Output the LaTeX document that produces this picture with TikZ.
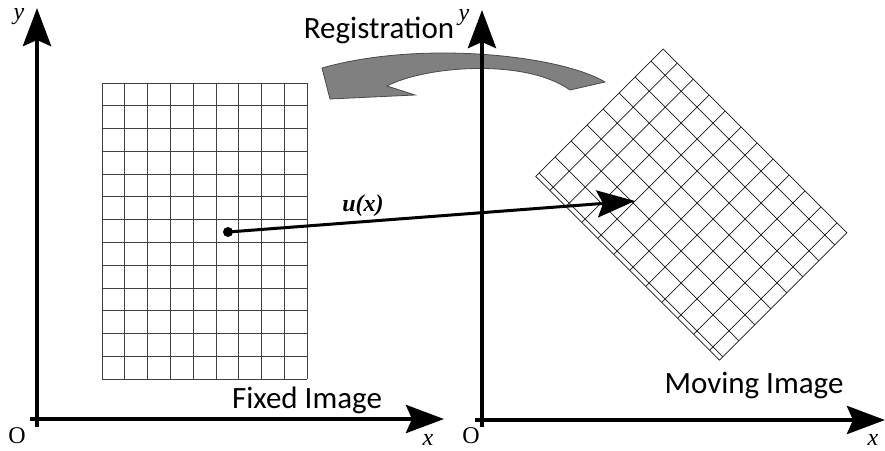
\documentclass[tikz,border=0pt]{standalone}
\usepackage{fontspec}
\setmainfont{Carlito}
\newfontfamily\tnr{Liberation Serif}
\usetikzlibrary{arrows.meta}
\definecolor{regfill}{HTML}{808080}
\definecolor{regline}{HTML}{4A4A4A}
\begin{document}
\begin{tikzpicture}[x=1pt,y=-1pt,
  axisline/.style={line width=4.5pt,-{Stealth[length=38pt,width=28pt,inset=6pt]}},
  uarrow/.style={line width=3pt,-{Stealth[length=38pt,width=27pt,inset=6pt]}},
  gridline/.style={line width=0.8pt,draw=black!75},
  mgridline/.style={line width=0.7pt,draw=black!90},
  bigtext/.style={font=\fontsize{31}{31}\selectfont,inner sep=0pt,anchor=base},
  axtext/.style={font=\tnr\itshape\fontsize{24}{24}\selectfont,inner sep=0pt},
  otext/.style={font=\tnr\fontsize{24}{24}\selectfont,inner sep=0pt}]
\useasboundingbox (0,0) rectangle (885,450);

% registration curved arrow
\path[fill=regfill,draw=regline,line width=0.8pt]
  (605,82) .. controls (560,55) and (420,40) .. (322,68)
  -- (330,99) -- (415,95) -- (387,86)
  .. controls (425,66) and (525,58) .. (570,90) -- cycle;

% fixed grid: 9 x 13 cells
\foreach \i in {0,...,9} {
  \draw[gridline] ({102+22.78*\i},83) -- ({102+22.78*\i},379);
}
\foreach \j in {0,...,13} {
  \draw[gridline] (102,{83+22.77*\j}) -- (307,{83+22.77*\j});
}

% moving grid, rotated 45 degrees
\begin{scope}[shift={(663,49)},x={(0.7071pt,-0.7071pt)},y={(-0.7071pt,-0.7071pt)}]
  \draw[mgridline] (0,0) -- (260,0) -- (260,180) -- (0,180) -- cycle;
  \foreach \k in {0,...,10} {
    \draw[mgridline] ({20+22.6*\k},0) -- ({20+22.6*\k},180);
  }
  \foreach \k in {0,...,7} {
    \draw[mgridline] (0,{17+22.6*\k}) -- (260,{17+22.6*\k});
  }
\end{scope}

% axes
\coordinate (lxs) at (30,419);
\coordinate (lxe) at (444,419);
\coordinate (lys) at (37,427);
\coordinate (lye) at (37,8);
\coordinate (rxs) at (475,420);
\coordinate (rxe) at (885,420);
\coordinate (rys) at (482,427);
\coordinate (rye) at (482,10);
\draw[axisline] (lxs) -- (lxe);
\draw[axisline] (lys) -- (lye);
\draw[axisline] (rxs) -- (rxe);
\draw[axisline] (rys) -- (rye);

% displacement arrow
\node[circle,fill=black,inner sep=0pt,minimum size=10pt] (p) at (228,232) {};
\coordinate (q) at (635,201);
\draw[uarrow] (p.center) -- (q);

% labels
\node[font=\tnr\bfseries\itshape\fontsize{24}{24}\selectfont,inner sep=0pt] (ux) at (363,206) {u(x)};
\node[bigtext] (reg) at (379,38) {Registration};
\node[bigtext] (fixed) at (307,408) {Fixed Image};
\node[bigtext] (moving) at (754,393) {Moving Image};
\node[axtext] (ly) at (19,17) {y};
\node[axtext] (lx) at (428,440) {x};
\node[otext] (lo) at (17,436) {O};
\node[axtext] (ry) at (464,18) {y};
\node[axtext] (rx) at (873,440) {x};
\node[otext] (ro) at (471,436) {O};
\end{tikzpicture}
\end{document}
